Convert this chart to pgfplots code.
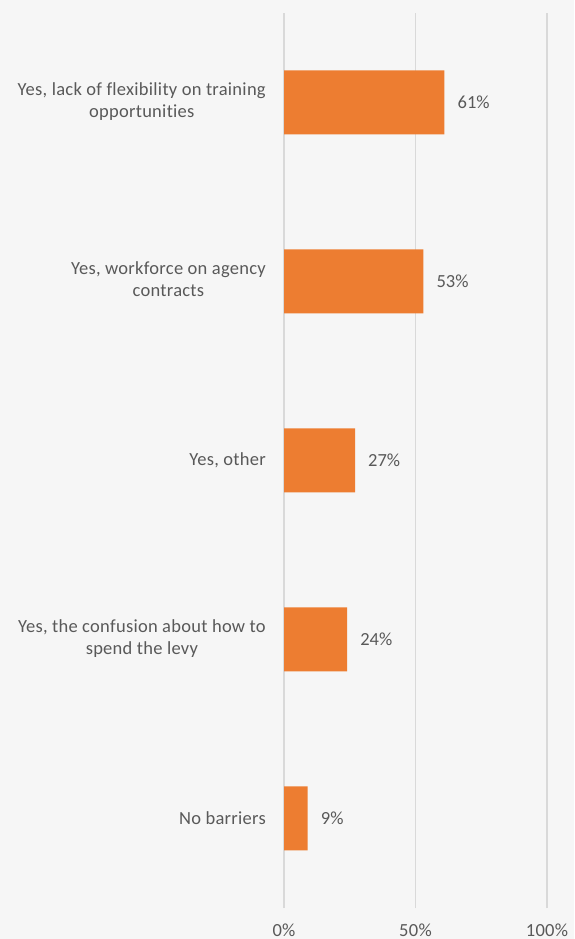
\documentclass[border=0pt]{standalone}
\usepackage{pgfplots}
\pgfplotsset{compat=1.18}
\usepackage{fontspec}
\setmainfont{Carlito}[Ligatures=NoCommon]
\definecolor{bg}{HTML}{F6F6F6}
\definecolor{txt}{HTML}{595959}
\definecolor{gridc}{HTML}{D9D9D9}
\definecolor{bar}{HTML}{ED7D31}
\begin{document}
\begin{tikzpicture}[x=1pt,y=1pt]
\useasboundingbox (0,0) rectangle (574,939);
\fill[bg] (0,0) rectangle (574,939);
\begin{axis}[
  at={(284pt,31pt)}, anchor=south west,
  scale only axis, width=263pt, height=895pt,
  xbar, bar width=64pt,
  xmin=0, xmax=100, ymin=-0.5, ymax=4.5,
  axis line style={draw=none},
  xmajorgrids, grid style={gridc, line width=1.2pt},
  xtick={0,50,100}, xticklabels={0\%,50\%,100\%},
  ytick={0,1,2,3,4},
  yticklabels={
    No barriers,
    {\begin{tabular}{@{}c@{}}Yes, the confusion about how to\\spend the levy\end{tabular}},
    Yes{,} other,
    {\begin{tabular}{@{}c@{}}Yes, workforce on agency\\contracts\end{tabular}},
    {\begin{tabular}{@{}c@{}}Yes, lack of flexibility on training\\opportunities\end{tabular}}
  },
  major tick length=0pt,
  tick style={draw=none},
  every tick label/.append style={font=\fontsize{18.5}{22}\selectfont\addfontfeature{LetterSpace=1.5}, text=txt},
  yticklabel style={anchor=east, inner sep=0pt, xshift=-18pt},
  xticklabel style={anchor=base, inner sep=0pt, yshift=-28pt},
  nodes near coords={\pgfmathprintnumber[assume math mode=true]{\pgfplotspointmeta}\%},
  every node near coord/.append style={anchor=west, inner sep=0pt, xshift=13pt,
     font=\fontsize{18.5}{22}\selectfont, text=txt},
  clip=false,
]
\addplot[fill=bar, draw=none] coordinates {(9,0) (24,1) (27,2) (53,3) (61,4)};
\end{axis}
\end{tikzpicture}
\end{document}
